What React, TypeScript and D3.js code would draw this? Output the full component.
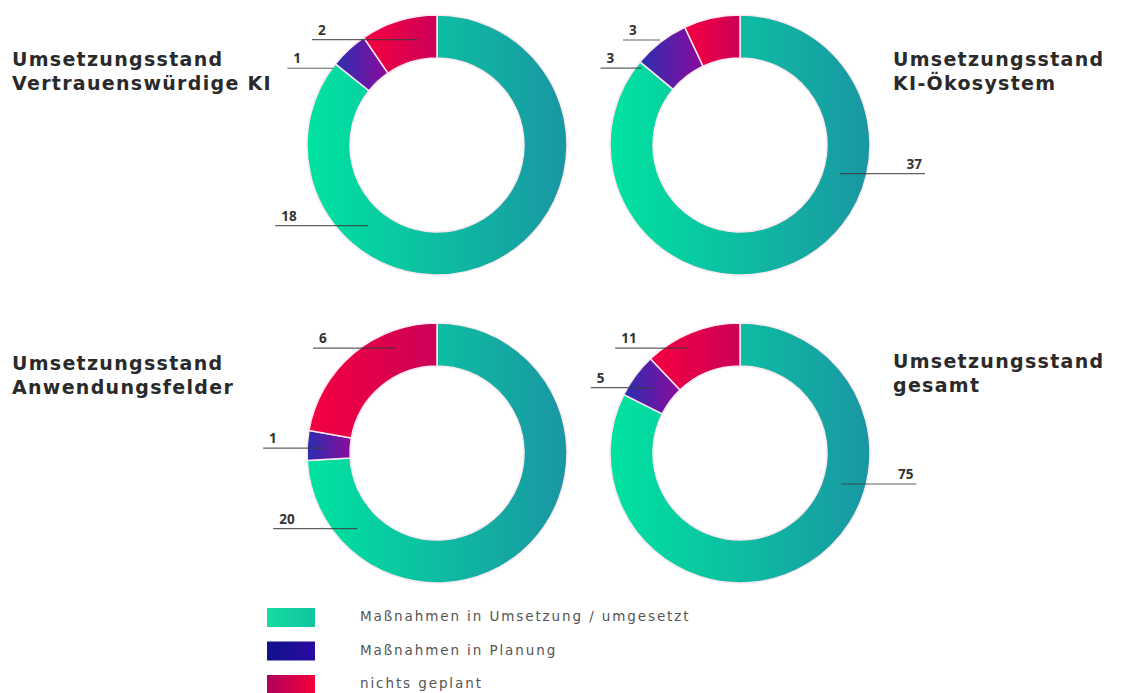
import React, { useEffect, useRef } from 'react';
import * as d3 from 'd3';

// categories (legend order = clockwise order from 12 o'clock)
const categories = ['Maßnahmen in Umsetzung / umgesetzt', 'Maßnahmen in Planung', 'nichts geplant'];

// one entry per donut: top-left, top-right, bottom-left, bottom-right
const titleLine1 = ['Umsetzungsstand', 'Umsetzungsstand', 'Umsetzungsstand', 'Umsetzungsstand'];
const titleLine2 = ['Vertrauenswürdige KI', 'KI-Ökosystem', 'Anwendungsfelder', 'gesamt'];
const umgesetzt = [18, 37, 20, 75];
const inPlanung = [1, 3, 1, 5];
const nichtsGeplant = [2, 3, 6, 11];

const W = 1127;
const H = 693;

// layout of the four donuts
const centers = [
  { x: 437, y: 145, titleX: 12 },
  { x: 740, y: 145, titleX: 893 },
  { x: 437, y: 453, titleX: 12 },
  { x: 740, y: 453, titleX: 893 },
];
const titleY = [66, 66, 370, 368];

// leader line for each segment: [angleDeg, radius, length, side]
const leaders = [
  [[220.4, 106, 93, -1], [306.5, 129, 46, -1], [349.7, 107, 106, -1]],
  [[106, 104, 85, 1], [308, 125, 41, -1], [322.7, 132, 37, -1]],
  [[226.5, 110, 84, -1], [272.5, 114, 60, -1], [338.2, 113, 82, -1]],
  [[107, 106, 75, 1], [306.8, 109, 62, -1], [333.7, 117, 73, -1]],
];

const gradStops = [
  ['#00e4a0', '#1a96a3'],
  ['#2a2fb0', '#8c0a9c'],
  ['#f50040', '#cc0058'],
];
const legendStops = [
  ['#14dca0', '#12c4a0'],
  ['#10128a', '#2a0aa2'],
  ['#b0005c', '#f4003c'],
];

const App = () => {
  const svgRef = useRef(null);

  useEffect(() => {
    const svg = d3.select(svgRef.current);
    svg.selectAll('*').remove();

    const defs = svg.append('defs');
    const addGrad = (id, stops) => {
      const g = defs.append('linearGradient').attr('id', id)
        .attr('x1', '0%').attr('x2', '100%').attr('y1', '0%').attr('y2', '0%');
      g.append('stop').attr('offset', '0%').attr('stop-color', stops[0]);
      g.append('stop').attr('offset', '100%').attr('stop-color', stops[1]);
    };
    gradStops.forEach((s, i) => addGrad(`seg${i}`, s));
    legendStops.forEach((s, i) => addGrad(`leg${i}`, s));

    const outerR = 130;
    const innerR = 87;

    const pie = d3.pie<number>().sort(null).value(d => d);
    const arc = d3.arc<d3.PieArcDatum<number>>().innerRadius(innerR).outerRadius(outerR);

    centers.forEach((c, i) => {
      const values = [umgesetzt[i], inPlanung[i], nichtsGeplant[i]];
      const g = svg.append('g').attr('transform', `translate(${c.x},${c.y})`);

      g.selectAll('path.seg')
        .data(pie(values))
        .enter()
        .append('path')
        .attr('class', 'seg')
        .attr('d', arc)
        .attr('fill', (d, j) => `url(#seg${j})`)
        .attr('stroke', '#fbe8f0')
        .attr('stroke-width', 1.5);

      // leader lines + value labels
      values.forEach((v, j) => {
        const [deg, r, len, side] = leaders[i][j];
        const a = (deg * Math.PI) / 180;
        const ax = r * Math.sin(a);
        const ay = -r * Math.cos(a);
        const ex = ax + side * len;
        g.append('line')
          .attr('x1', ax).attr('y1', ay)
          .attr('x2', ex).attr('y2', ay)
          .attr('stroke', '#3a3a3a')
          .attr('stroke-opacity', 0.8)
          .attr('stroke-width', 1.2);
        g.append('text')
          .attr('x', side < 0 ? ex + 6 : ex - 3)
          .attr('y', ay - 5)
          .attr('text-anchor', side < 0 ? 'start' : 'end')
          .attr('font-family', 'Open Sans, sans-serif')
          .attr('font-weight', 700)
          .attr('font-size', 13.5)
          .attr('fill', '#333')
          .text(v);
      });

      // title
      [titleLine1[i], titleLine2[i]].forEach((t, k) => {
        svg.append('text')
          .attr('x', c.titleX)
          .attr('y', titleY[i] + k * 24)
          .attr('font-family', 'DejaVu Sans, sans-serif')
          .attr('font-weight', 700)
          .attr('font-size', 19)
          .attr('letter-spacing', 1.3)
          .attr('fill', '#2a2a2a')
          .text(t);
      });
    });

    // legend
    const legendY = d3.scalePoint().domain(categories).range([617, 684]);
    const legend = svg.append('g');
    categories.forEach((cat, j) => {
      const y = legendY(cat);
      legend.append('rect')
        .attr('x', 267).attr('y', y - 9)
        .attr('width', 48).attr('height', 19)
        .attr('fill', `url(#leg${j})`);
      legend.append('text')
        .attr('x', 360).attr('y', y + 4)
        .attr('font-family', 'DejaVu Sans, sans-serif')
        .attr('font-size', 13.5)
        .attr('letter-spacing', 1.9)
        .attr('fill', '#555')
        .text(cat);
    });
  }, []);

  return (
    <svg
      ref={svgRef}
      width={W}
      height={H}
      style={{ position: 'absolute', left: 0, top: 0, background: '#fff' }}
    ></svg>
  );
};

export default App;
